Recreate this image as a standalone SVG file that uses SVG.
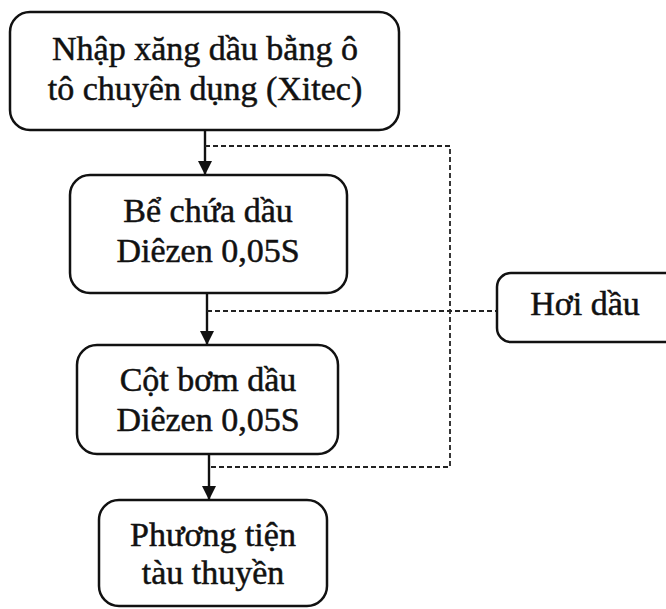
<svg xmlns="http://www.w3.org/2000/svg" width="666" height="609" viewBox="0 0 666 609">
<style>
.box{fill:#fff;stroke:#111;stroke-width:2.5}
.t{font-family:"Liberation Serif","Times New Roman",serif;font-size:34px;fill:#111;stroke:#111;stroke-width:0.5;text-anchor:middle}
.flow{stroke:#111;stroke-width:2.4;fill:none}
.dash{stroke:#222;stroke-width:1.8;fill:none;stroke-dasharray:5,3}
</style>
<defs>
<marker id="ah" markerUnits="userSpaceOnUse" markerWidth="16" markerHeight="16" viewBox="0 0 16 16" refX="14" refY="8" orient="auto">
<path d="M0,1 L14,8 L0,15 Z" fill="#111"/>
</marker>
</defs>
<rect width="666" height="609" fill="#fff"/>
<g id="connectors">
<line class="flow" x1="205" y1="130" x2="205" y2="175" marker-end="url(#ah)"/>
<line class="flow" x1="207" y1="293" x2="207" y2="345" marker-end="url(#ah)"/>
<line class="flow" x1="209" y1="454" x2="209" y2="500" marker-end="url(#ah)"/>
<path class="dash" d="M205,146 H450 V467 H209"/>
<line class="dash" x1="207" y1="311" x2="497" y2="311"/>
</g>
<g id="node1">
<rect class="box" x="10" y="12" width="389" height="118" rx="20"/>
<text class="t" x="205" y="60">Nhập xăng dầu bằng ô</text>
<text class="t" x="205" y="100">tô chuyên dụng (Xitec)</text>
</g>
<g id="node2">
<rect class="box" x="70" y="175" width="277" height="118" rx="20"/>
<text class="t" x="208" y="222">Bể chứa dầu</text>
<text class="t" x="208" y="262">Diêzen 0,05S</text>
</g>
<g id="node3">
<rect class="box" x="77" y="345" width="261" height="109" rx="20"/>
<text class="t" x="208" y="391">Cột bơm dầu</text>
<text class="t" x="208" y="431">Diêzen 0,05S</text>
</g>
<g id="node4">
<rect class="box" x="99" y="500" width="228" height="106" rx="20"/>
<text class="t" x="213" y="546">Phương tiện</text>
<text class="t" x="213" y="584">tàu thuyền</text>
</g>
<g id="node5">
<rect class="box" x="497" y="273" width="185" height="69" rx="14"/>
<text class="t" x="585" y="315">Hơi dầu</text>
</g>
</svg>
